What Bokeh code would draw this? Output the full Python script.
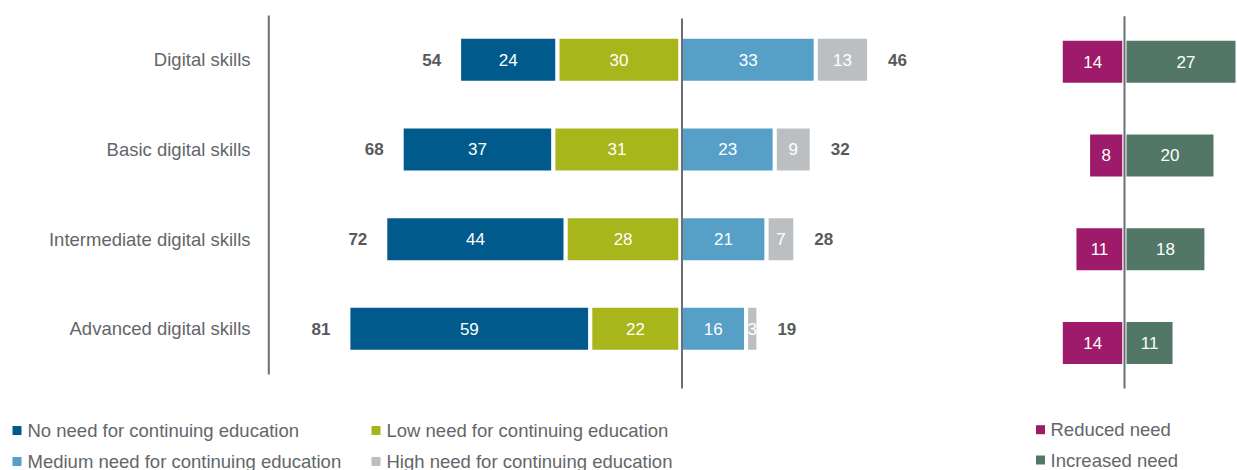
from bokeh.plotting import figure
from bokeh.layouts import row
from bokeh.models import ColumnDataSource, Range1d
from bokeh.core.properties import value
from bokeh.embed import file_html
from bokeh.resources import INLINE

# ---------------- data ----------------
categories = ["Digital skills", "Basic digital skills",
              "Intermediate digital skills", "Advanced digital skills"]
no_need = [24, 37, 44, 59]
low_need = [30, 31, 28, 22]
medium_need = [33, 23, 21, 16]
high_need = [13, 9, 7, 3]
reduced_need = [14, 8, 11, 14]
increased_need = [27, 20, 18, 11]

legend_main = ["No need for continuing education", "Low need for continuing education",
               "Medium need for continuing education", "High need for continuing education"]
legend_right = ["Reduced need", "Increased need"]

# ---------------- styles ----------------
C_NO, C_LOW, C_MED, C_HIGH = "#005b8c", "#a8b51b", "#56a0c8", "#bcbfc2"
C_RED, C_INC = "#9e1a6a", "#527767"
TXT = "#63666a"
TOT = "#58595b"
LINE = "#6b6e73"
FONT = value("Liberation Sans")

W1, W2, H = 1000, 237, 470
# main panel geometry (page px)
S1, Z1, ROW1_TOP, ROW1_STEP = 4.1, 680, 59.3, 89.67
# right panel geometry (page px)
S2, Z2, ROW2_TOP, ROW2_STEP = 4.55, 1124, 61.2, 93.77
X1_OFF, X2_OFF, Y_OFF = 0, W1, 0


def mx(px):
    return (px - Z1) / S1


def my(py):
    return (py - ROW1_TOP) / ROW1_STEP


def rx(px):
    return (px - Z2) / S2


def ry(py):
    return (py - ROW2_TOP) / ROW2_STEP


idx = list(range(len(categories)))
left_tot = [a + b for a, b in zip(no_need, low_need)]
right_tot = [a + b for a, b in zip(medium_need, high_need)]

src = ColumnDataSource(dict(
    y=idx, cat=categories,
    no_l=[-t for t in left_tot], no_r=[-l for l in low_need],
    low_l=[-l for l in low_need], low_r=[0] * 4,
    med_l=[0] * 4, med_r=medium_need,
    high_l=medium_need, high_r=right_tot,
    no_x=[-(t + l) / 2 for t, l in zip(left_tot, low_need)],
    low_x=[-l / 2 for l in low_need],
    med_x=[m / 2 for m in medium_need],
    high_x=[m + h / 2 for m, h in zip(medium_need, high_need)],
    no_t=[str(v) for v in no_need], low_t=[str(v) for v in low_need],
    med_t=[str(v) for v in medium_need], high_t=[str(v) for v in high_need],
    lt_x=[-t for t in left_tot], lt_t=[str(t) for t in left_tot],
    rt_x=right_tot, rt_t=[str(t) for t in right_tot],
))

# ---------------- main figure ----------------
p = figure(width=W1, height=H,
           x_range=Range1d(mx(X1_OFF), mx(X1_OFF + W1)),
           y_range=Range1d(my(Y_OFF + H), my(Y_OFF)),
           output_backend="svg", toolbar_location=None, min_border=0,
           x_axis_location=None, y_axis_location=None)
p.grid.visible = False
p.outline_line_color = None

BH1 = 46 / ROW1_STEP
for key, col in [("no", C_NO), ("low", C_LOW), ("med", C_MED), ("high", C_HIGH)]:
    p.hbar(y="y", left=key + "_l", right=key + "_r", height=BH1, source=src,
           fill_color=col, line_color="white", line_width=4)
    p.text(x=key + "_x", y="y", text=key + "_t", source=src, text_color="white",
           text_align="center", text_baseline="middle",
           text_font=FONT, text_font_size="17px")

p.text(x="lt_x", y="y", text="lt_t", source=src, x_offset=-18, text_color=TOT,
       text_align="right", text_baseline="middle", text_font=FONT,
       text_font_size="17px", text_font_style="bold")
p.text(x="rt_x", y="y", text="rt_t", source=src, x_offset=19, text_color=TOT,
       text_align="left", text_baseline="middle", text_font=FONT,
       text_font_size="17px", text_font_style="bold")

# category labels
p.text(x=[mx(250)] * 4, y=idx, text=categories, text_color=TXT,
       text_align="right", text_baseline="middle", text_font=FONT,
       text_font_size="18.5px")

# vertical lines
p.segment(x0=[mx(268.3), mx(681.5)], y0=[my(15), my(18)],
          x1=[mx(268.3), mx(681.5)], y1=[my(374), my(388)],
          line_color=LINE, line_width=2)

# legend (main)
lg_sq_x = [mx(16.5), mx(375.5), mx(16.5), mx(375.5)]
lg_tx_x = [mx(27), mx(386), mx(27), mx(386)]
lg_y = [my(430), my(430), my(461), my(461)]
p.scatter(x=lg_sq_x, y=lg_y, marker="square", size=9,
          fill_color=[C_NO, C_LOW, C_MED, C_HIGH], line_color=None)
p.text(x=lg_tx_x, y=lg_y, text=legend_main, text_color=TXT, text_align="left",
       text_baseline="middle", text_font=FONT, text_font_size="18.5px")

# ---------------- right figure ----------------
src2 = ColumnDataSource(dict(
    y=idx,
    r_l=[-v for v in reduced_need], r_r=[0] * 4,
    i_l=[0] * 4, i_r=increased_need,
    r_x=[-v / 2 for v in reduced_need], i_x=[v / 2 for v in increased_need],
    r_t=[str(v) for v in reduced_need], i_t=[str(v) for v in increased_need],
))

q = figure(width=W2, height=H,
           x_range=Range1d(rx(X2_OFF), rx(X2_OFF + W2)),
           y_range=Range1d(ry(Y_OFF + H), ry(Y_OFF)),
           output_backend="svg", toolbar_location=None, min_border=0,
           x_axis_location=None, y_axis_location=None)
q.grid.visible = False
q.outline_line_color = None

BH2 = 46 / ROW2_STEP
for key, col in [("r", C_RED), ("i", C_INC)]:
    q.hbar(y="y", left=key + "_l", right=key + "_r", height=BH2, source=src2,
           fill_color=col, line_color="white", line_width=4)
    q.text(x=key + "_x", y="y", text=key + "_t", source=src2, text_color="white",
           text_align="center", text_baseline="middle",
           text_font=FONT, text_font_size="17px")

q.segment(x0=[0], y0=[ry(15.7)], x1=[0], y1=[ry(388)], line_color=LINE, line_width=2)

q.scatter(x=[rx(1040), rx(1040)], y=[ry(429.2), ry(459.5)], marker="square", size=9,
          fill_color=[C_RED, C_INC], line_color=None)
q.text(x=[rx(1050), rx(1050)], y=[ry(429.2), ry(459.5)], text=legend_right,
       text_color=TXT, text_align="left", text_baseline="middle",
       text_font=FONT, text_font_size="18.5px")

layout = row(p, q, spacing=0)
open("out.html", "w").write(file_html(layout, INLINE))
